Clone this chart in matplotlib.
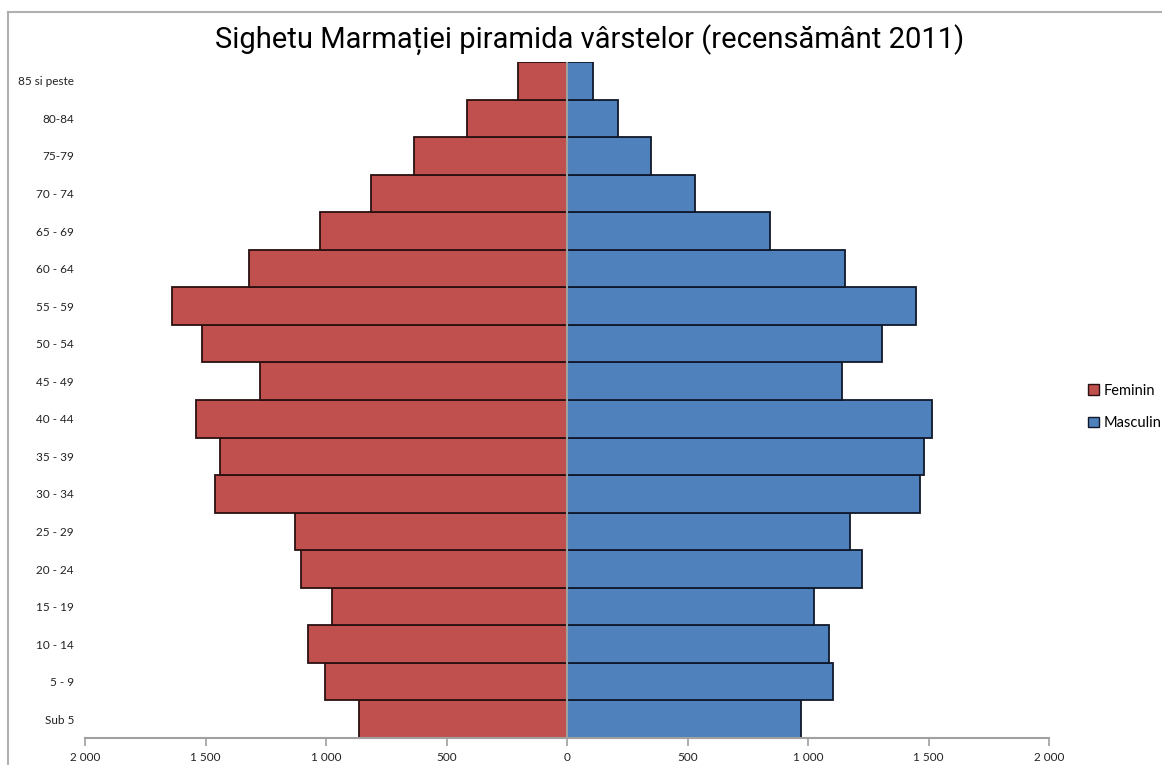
import matplotlib.pyplot as plt
from matplotlib.patches import Rectangle
from matplotlib.lines import Line2D

# Grupe de vârstă (de jos în sus) și populația pe sexe
grupe = ['Sub 5', '5 - 9', '10 - 14', '15 - 19', '20 - 24', '25 - 29', '30 - 34',
         '35 - 39', '40 - 44', '45 - 49', '50 - 54', '55 - 59', '60 - 64',
         '65 - 69', '70 - 74', '75-79', '80-84', '85 si peste']
feminin = [864, 1005, 1076, 976, 1105, 1130, 1462, 1441, 1541, 1275, 1516, 1640,
           1321, 1026, 814, 635, 415, 203]
masculin = [972, 1105, 1088, 1026, 1225, 1175, 1466, 1483, 1516, 1142, 1308, 1449,
            1154, 843, 532, 349, 212, 108]
ticks_x = [-2000, -1500, -1000, -500, 0, 500, 1000, 1500, 2000]

plt.rcParams['font.family'] = ['Lato', 'DejaVu Sans']

W, H = 1162, 765
fig = plt.figure(figsize=(W / 100, H / 100), dpi=100)
ax = fig.add_axes([85 / W, (H - 738) / H, (1049 - 85) / W, (738 - 62) / H])

y = list(range(len(grupe)))
ax.barh(y, [-v for v in feminin], height=1.0, color='#C0504D',
        edgecolor='#2a1010', linewidth=1.3, label='Feminin')
ax.barh(y, masculin, height=1.0, color='#4F81BD',
        edgecolor='#10182a', linewidth=1.3, label='Masculin')
ax.axvline(0, color='#a0a0a0', lw=1.5, zorder=5)

ax.set_xlim(-2000, 2000)
ax.set_ylim(-0.5, len(grupe) - 0.5)
ax.set_yticks(y)
ax.set_yticklabels(grupe, fontsize=8.5, color='#222222')
ax.tick_params(axis='y', length=0, pad=8)
ax.set_xticks(ticks_x)
ax.set_xticklabels([f'{abs(t):,}'.replace(',', ' ') for t in ticks_x], fontsize=8.5,
                   color='#222222')
ax.tick_params(axis='x', length=6, width=1.2, color='#a0a0a0', pad=4)
for s in ['left', 'right', 'top']:
    ax.spines[s].set_visible(False)
ax.spines['bottom'].set_color('#a0a0a0')
ax.spines['bottom'].set_linewidth(1.5)

fig.text(590 / W, 1 - 40 / H, 'Sighetu Marmației piramida vârstelor (recensământ 2011)',
         ha='center', va='center', fontsize=21, family=['Roboto', 'DejaVu Sans'])

handles = [Rectangle((0, 0), 1, 1, facecolor='#C0504D', edgecolor='#2a1010'),
           Rectangle((0, 0), 1, 1, facecolor='#4F81BD', edgecolor='#10182a')]
fig.legend(handles, ['Feminin', 'Masculin'], loc='center left',
           bbox_to_anchor=(1088 / W, 1 - 407 / H), frameon=False, fontsize=10.5,
           handlelength=0.75, handleheight=0.75, handletextpad=0.3, labelspacing=1.25,
           borderaxespad=0, borderpad=0)

# chenarul graficului
fig.add_artist(Line2D([8 / W, 8 / W], [0, 1 - 12 / H], color='#b0b0b0', lw=1.5))
fig.add_artist(Line2D([8 / W, 1], [1 - 12 / H, 1 - 12 / H], color='#b0b0b0', lw=1.5))

fig.savefig('out.png', dpi=100)
